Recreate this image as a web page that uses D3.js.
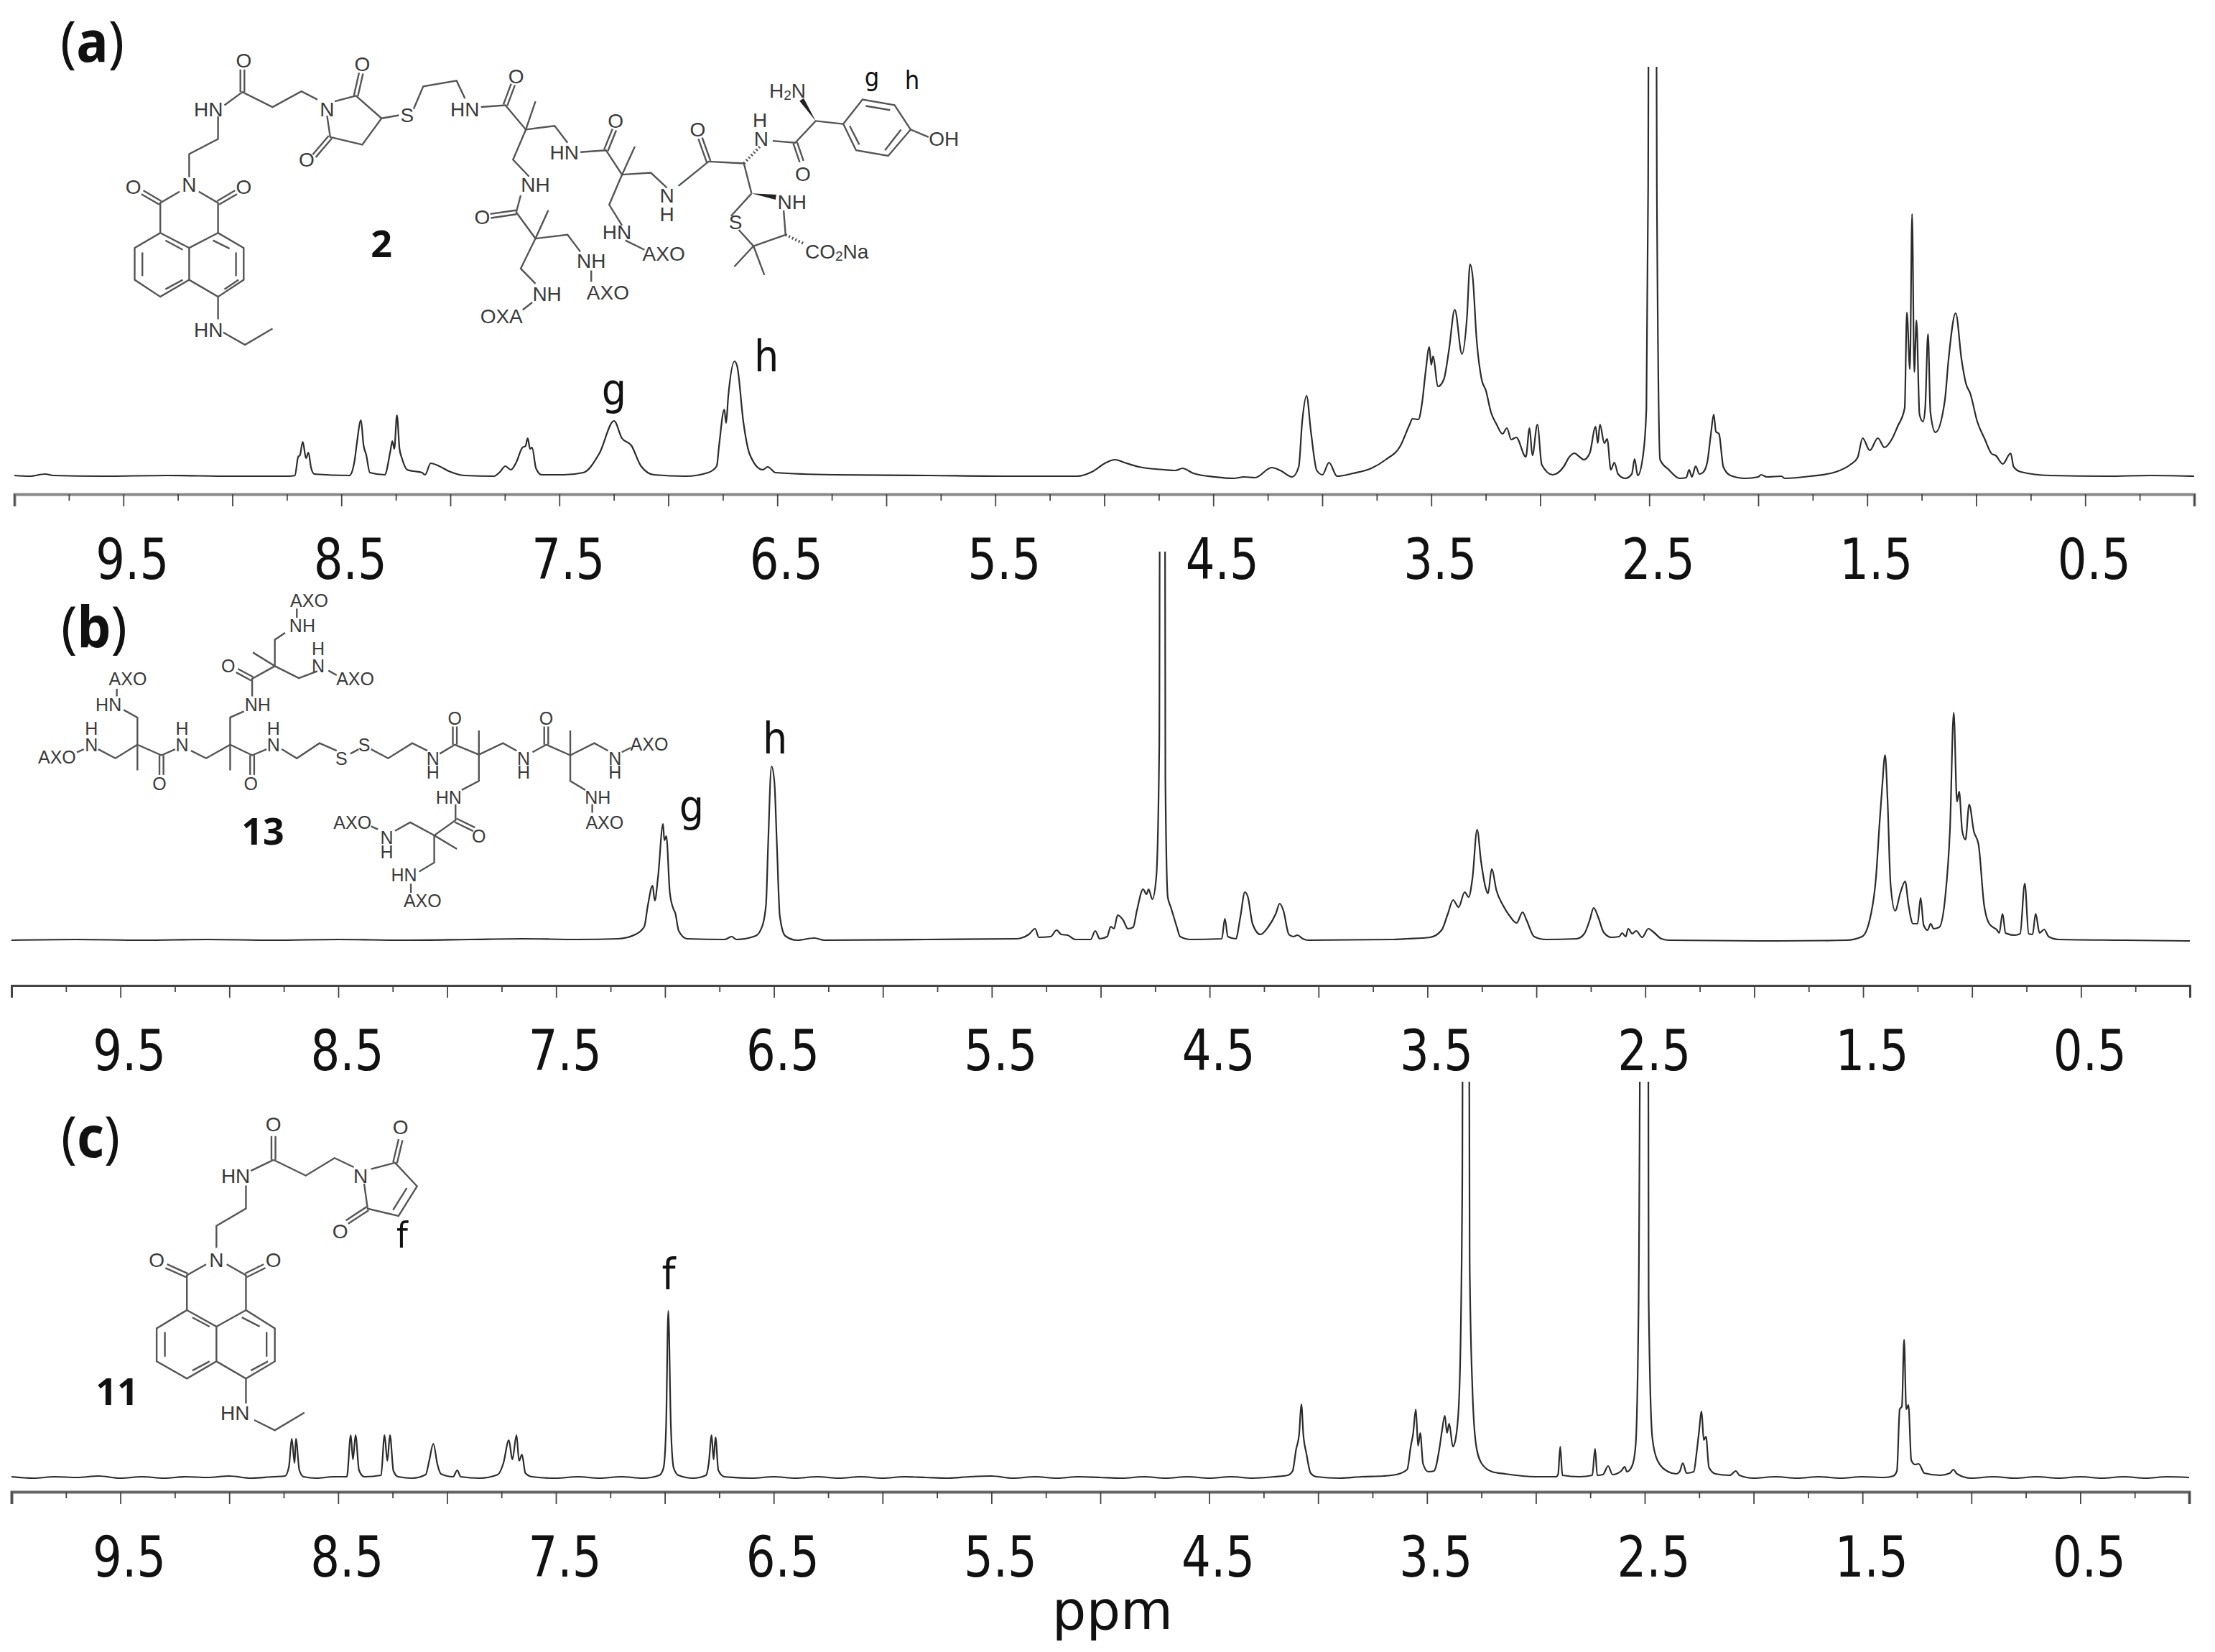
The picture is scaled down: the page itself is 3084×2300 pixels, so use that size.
<!DOCTYPE html>
<html>
<head>
<meta charset="UTF-8">
<title>NMR spectra</title>
<script src="https://cdn.jsdelivr.net/npm/d3@7"></script>
<style>
html, body { margin: 0; background: #fff; }
svg { display: block; }
</style>
</head>
<body>
<script>
// ticks
var majorTicks = [10, 9.5, 9, 8.5, 8, 7.5, 7, 6.5, 6, 5.5, 5, 4.5, 4, 3.5, 3, 2.5, 2, 1.5, 1, 0.5, 0];
var minorTicks = [9.75, 9.25, 8.75, 8.25, 7.75, 7.25, 6.75, 6.25, 5.75, 5.25, 4.75, 4.25, 3.75, 3.25, 2.75, 2.25, 1.75, 1.25, 0.75, 0.25];
var labelledTicks = [9.5, 8.5, 7.5, 6.5, 5.5, 4.5, 3.5, 2.5, 1.5, 0.5];

// spectra: [ppm, height above baseline]
var spectrumA = [[10,1],[9.93,0],[9.859,3],[9.82,1],[9.6,0],[9.3,1],[9.0,0],[8.742,0],[8.713,1],[8.698,27],[8.69,29],[8.677,48],[8.662,25],[8.651,33],[8.639,12],[8.624,3],[8.463,1],[8.439,22],[8.43,43],[8.41,78],[8.398,43],[8.386,30],[8.369,5],[8.301,2],[8.275,35],[8.266,49],[8.257,38],[8.245,85],[8.233,38],[8.222,25],[8.198,9],[8.169,7],[8.13,5],[8.116,2],[8.09,18],[8.051,14],[8.007,7],[7.934,1],[7.8,0],[7.772,6],[7.748,14],[7.722,9],[7.698,19],[7.669,40],[7.655,42],[7.645,53],[7.634,38],[7.625,40],[7.607,11],[7.581,2],[7.478,2],[7.39,5],[7.316,32],[7.249,77],[7.213,53],[7.17,43],[7.125,14],[7.066,2],[6.92,0],[6.817,5],[6.778,14],[6.767,43],[6.743,93],[6.735,74],[6.725,111],[6.696,160],[6.684,153],[6.655,74],[6.626,30],[6.567,9],[6.544,13],[6.508,5],[6.243,2],[5.8,1],[5.456,0],[5.124,0],[5.057,6],[4.991,19],[4.951,23],[4.908,19],[4.841,13],[4.724,9],[4.674,8],[4.641,11],[4.591,4],[4.491,-1],[4.408,-3],[4.358,-1],[4.308,-2],[4.232,12],[4.192,8],[4.138,-1],[4.108,13],[4.092,76],[4.072,112],[4.052,62],[4.025,8],[3.999,2],[3.969,19],[3.932,0],[3.859,4],[3.775,11],[3.709,23],[3.642,42],[3.599,72],[3.586,80],[3.559,79],[3.542,102],[3.526,145],[3.509,180],[3.5,155],[3.492,167],[3.469,125],[3.442,135],[3.419,175],[3.392,232],[3.359,170],[3.336,222],[3.322,295],[3.309,275],[3.293,195],[3.269,135],[3.249,119],[3.226,89],[3.2,72],[3.173,59],[3.153,67],[3.133,51],[3.11,54],[3.066,27],[3.049,67],[3.036,29],[3.013,72],[2.993,16],[2.943,2],[2.893,13],[2.866,27],[2.843,32],[2.82,27],[2.8,23],[2.773,32],[2.746,69],[2.736,46],[2.726,72],[2.706,46],[2.693,52],[2.676,9],[2.66,19],[2.643,3],[2.61,-3],[2.58,3],[2.567,24],[2.553,1],[2.527,32],[2.513,95],[2.505,400],[2.5,1000],[2.47,1000],[2.465,400],[2.45,23],[2.41,9],[2.36,-3],[2.33,-2],[2.317,9],[2.304,-1],[2.287,14],[2.27,3],[2.254,5],[2.234,19],[2.217,59],[2.204,86],[2.194,62],[2.18,59],[2.16,13],[2.127,1],[2.06,-3],[2.0,-1],[1.987,2],[1.96,-1],[1.894,0],[1.878,-3],[1.761,0],[1.644,6],[1.578,16],[1.544,26],[1.521,53],[1.488,36],[1.451,53],[1.421,40],[1.388,51],[1.361,69],[1.328,95],[1.318,228],[1.304,149],[1.294,365],[1.284,145],[1.274,217],[1.26,86],[1.244,76],[1.234,95],[1.221,198],[1.21,89],[1.187,61],[1.144,105],[1.127,162],[1.094,227],[1.067,162],[1.047,129],[1.027,115],[0.995,76],[0.961,52],[0.928,31],[0.911,29],[0.878,17],[0.842,32],[0.828,13],[0.795,6],[0.662,1],[0.4,0],[0.2,1],[0,0]];

var spectrumB = [[10,0],[9.7,1],[9.4,0],[9.1,1],[8.8,0],[8.5,1],[8.2,0],[7.9,1],[7.656,2],[7.4,1],[7.215,2],[7.136,8],[7.095,19],[7.079,48],[7.057,76],[7.047,55],[7.032,88],[7.009,162],[7.003,139],[6.994,145],[6.978,67],[6.962,44],[6.953,38],[6.937,13],[6.899,2],[6.726,1],[6.694,5],[6.672,1],[6.584,6],[6.552,21],[6.536,51],[6.527,130],[6.511,242],[6.498,221],[6.486,130],[6.473,34],[6.448,6],[6.394,0],[6.315,3],[6.268,0],[5.8,1],[5.385,2],[5.365,3],[5.33,8],[5.301,16],[5.284,4],[5.23,5],[5.202,14],[5.181,8],[5.152,7],[5.117,1],[5.046,1],[5.025,13],[5.004,2],[4.97,5],[4.954,19],[4.939,16],[4.922,35],[4.897,28],[4.875,16],[4.851,18],[4.834,41],[4.805,71],[4.79,64],[4.78,71],[4.763,57],[4.745,87],[4.731,271],[4.727,900],[4.706,900],[4.703,225],[4.692,60],[4.678,46],[4.664,32],[4.65,18],[4.635,5],[4.586,1],[4.444,2],[4.43,30],[4.416,5],[4.38,2],[4.359,32],[4.338,67],[4.324,60],[4.303,23],[4.267,8],[4.232,18],[4.196,37],[4.178,51],[4.161,41],[4.136,8],[4.115,5],[4.097,7],[4.072,2],[4.047,0],[3.665,1],[3.594,2],[3.488,4],[3.435,14],[3.406,37],[3.382,56],[3.357,46],[3.329,67],[3.311,60],[3.293,87],[3.272,154],[3.254,110],[3.233,73],[3.222,65],[3.205,99],[3.183,69],[3.152,48],[3.123,34],[3.091,24],[3.063,39],[3.045,28],[3.01,5],[2.957,1],[2.815,2],[2.78,9],[2.755,28],[2.737,45],[2.716,32],[2.691,11],[2.656,4],[2.62,5],[2.606,10],[2.59,5],[2.578,16],[2.56,9],[2.542,13],[2.514,4],[2.486,16],[2.461,11],[2.426,2],[2.39,0],[1.894,-1],[1.576,0],[1.505,5],[1.47,28],[1.441,87],[1.424,165],[1.413,211],[1.399,258],[1.388,197],[1.374,78],[1.353,41],[1.328,67],[1.307,82],[1.292,50],[1.271,23],[1.25,23],[1.236,59],[1.222,21],[1.204,14],[1.19,23],[1.176,16],[1.151,18],[1.123,60],[1.101,156],[1.084,317],[1.069,193],[1.059,207],[1.045,152],[1.03,140],[1.013,189],[0.992,152],[0.97,133],[0.945,50],[0.921,23],[0.885,14],[0.875,10],[0.86,37],[0.846,10],[0.804,7],[0.779,9],[0.758,79],[0.74,9],[0.722,8],[0.708,37],[0.69,10],[0.669,15],[0.648,5],[0.602,1],[0.3,0],[0,-1]];

var spectrumC = [[10,1],[9.9,-1],[9.8,1],[9.7,0],[9.6,2],[9.5,-1],[9.4,1],[9.3,-1],[9.2,1],[9.1,0],[9.0,2],[8.9,-1],[8.8,1],[8.744,2],[8.726,15],[8.713,54],[8.7,20],[8.694,54],[8.678,10],[8.659,1],[8.6,-1],[8.52,1],[8.46,1],[8.442,59],[8.432,25],[8.42,59],[8.404,10],[8.38,1],[8.303,3],[8.287,59],[8.274,23],[8.262,59],[8.246,9],[8.224,1],[8.16,-1],[8.098,4],[8.082,23],[8.063,47],[8.044,18],[8.028,5],[7.972,1],[7.953,10],[7.937,1],[7.85,-1],[7.767,4],[7.741,20],[7.716,52],[7.7,25],[7.681,59],[7.669,23],[7.656,32],[7.64,6],[7.609,1],[7.5,-1],[7.4,1],[7.3,-1],[7.2,1],[7.1,-1],[7.025,3],[7.006,13],[6.994,71],[6.984,232],[6.972,71],[6.959,13],[6.937,3],[6.87,-1],[6.811,3],[6.798,20],[6.785,59],[6.776,25],[6.767,56],[6.754,10],[6.726,1],[6.6,-1],[6.5,1],[6.4,-1],[6.3,1],[6.2,-1],[6.1,1],[6.0,-1],[5.9,1],[5.8,0],[5.7,-1],[5.6,1],[5.5,2],[5.4,-1],[5.3,1],[5.2,-1],[5.1,1],[5.0,0],[4.9,-1],[4.8,1],[4.7,-1],[4.6,1],[4.5,-1],[4.4,1],[4.3,-1],[4.2,1],[4.14,3],[4.117,9],[4.101,39],[4.087,60],[4.077,102],[4.067,57],[4.054,34],[4.034,6],[4.007,1],[3.9,-1],[3.8,1],[3.7,2],[3.641,4],[3.591,11],[3.574,44],[3.564,60],[3.551,95],[3.541,44],[3.531,62],[3.518,19],[3.494,8],[3.468,9],[3.441,44],[3.431,65],[3.418,86],[3.408,62],[3.398,75],[3.381,43],[3.365,60],[3.351,121],[3.338,400],[3.334,900],[3.308,900],[3.304,300],[3.291,121],[3.274,44],[3.248,19],[3.201,8],[3.141,5],[3.0,1],[2.908,1],[2.898,4],[2.888,43],[2.878,3],[2.8,1],[2.741,3],[2.728,40],[2.718,3],[2.692,4],[2.668,16],[2.648,4],[2.608,9],[2.592,15],[2.582,8],[2.558,16],[2.542,44],[2.528,248],[2.515,900],[2.485,900],[2.482,248],[2.465,55],[2.442,24],[2.392,8],[2.355,5],[2.34,8],[2.325,20],[2.308,6],[2.275,8],[2.262,34],[2.252,60],[2.239,92],[2.229,52],[2.219,57],[2.205,14],[2.175,5],[2.109,3],[2.082,9],[2.065,3],[2.0,-1],[1.9,1],[1.8,-1],[1.7,1],[1.6,-1],[1.5,1],[1.4,0],[1.359,2],[1.342,9],[1.329,95],[1.319,99],[1.309,192],[1.299,95],[1.289,101],[1.276,24],[1.259,18],[1.242,19],[1.216,6],[1.143,3],[1.099,6],[1.083,11],[1.066,5],[1.0,-1],[0.9,1],[0.8,-1],[0.7,1],[0.6,-1],[0.5,1],[0.4,-1],[0.3,1],[0.2,-1],[0.1,1],[0,0]];

var viewA = { sx: 1400 / 1568, sy: 820 / 1568, dy: 0, font: 28 };
var viewB = { sx: 1500 / 1568, sy: 660 / 1568, dy: 820, font: 25 };
var viewC = { sx: 1500 / 1568, sy: 800 / 1568, dy: 1500, font: 28 };

var bondsA = [
  [[280,510],[250,540],[250,620],[210,660],[210,745],[250,790],[295,745],[295,660],[250,620]],
  [[310,510],[340,540],[340,620],[380,660],[380,745],[340,790],[295,745]],[[295,660],[340,620]],
  [[340,790],[340,850]],[[348,885],[382,918],[425,875]],
  [[295,472],[295,410],[340,370],[340,310]],
  [[350,280],[378,245],[425,285],[470,243],[495,265]],
  [[522,270],[555,255],[595,315],[565,385],[515,365],[510,308]],
  [[595,315],[622,307]],[[645,290],[660,230],[712,215],[725,262]],
  [[750,285],[788,280],[820,345],[835,270]],[[820,345],[865,335],[885,380]],[[820,345],[800,425],[825,470]],
  [[905,405],[945,400],[970,465],[990,390]],[[970,465],[1015,460],[1040,500]],[[970,465],[950,545],[970,600]],[[975,640],[1005,665]],
  [[1058,495],[1105,430],[1160,435],[1172,515]],[[1205,375],[1240,380],[1272,322],[1315,330]],
  [[1315,330],[1345,265],[1395,280],[1420,345],[1385,415],[1335,400],[1315,330]],[[1420,345],[1448,365]],
  [[1172,515],[1140,575]],[[1222,560],[1225,625],[1175,655],[1152,612]],[[1175,655],[1145,710]],[[1175,655],[1192,732]],
  [[812,520],[805,565],[835,635],[855,560]],[[835,635],[885,625],[905,670]],[[922,720],[922,750]],[[835,635],[812,715],[835,755]],[[830,805],[815,825]]
];
var doublesA = [
  [[250,540],[222,512]],[[340,540],[368,512]],[[378,245],[378,185]],[[555,255],[563,195]],[[515,365],[490,415]],
  [[788,280],[800,225]],[[945,400],[958,345]],[[1105,430],[1092,368]],[[1240,380],[1250,430]],[[805,565],[765,575]]
];
var innerA = [
  [[258,640],[285,665]],[[222,672],[222,735]],[[258,770],[285,745]],[[368,672],[368,735]],[[332,640],[358,662]],[[350,770],[372,745]],
  [[1350,282],[1388,293]],[[1405,345],[1380,400]],[[1340,385],[1325,335]]
];
var wedgesA = [[[1272,322],[1250,265]],[[1172,515],[1210,525]]];
var hashesA = [[[1160,435],[1185,390]],[[1225,625],[1255,650]]];
var atomsA = [
  ["O",380,160],["O",565,170],["O",208,497],["O",380,497],["O",478,425],["O",805,203],["O",960,322],["O",1088,345],["O",1252,463],["O",752,578],
  ["N",295,492],["N",510,290],["HN",325,290],["HN",325,878],["S",635,305],["HN",725,290],["HN",880,405],["NH",835,492],
  ["N",1040,520],["H",1040,570],["HN",962,618],["AXO",1035,675],["N",1187,370],["H",1185,320],["H2N",1228,240],["OH",1472,370],
  ["NH",1235,538],["S",1147,590],["CO2Na",1305,670],["NH",922,695],["AXO",948,778],["NH",853,782],["OXA",782,842]
];

var bondsB = [
  [[432,65],[432,95]],[[415,145],[400,168],[400,255],[368,210]],[[400,255],[435,295],[462,272]],[[478,270],[490,285]],
  [[400,255],[367,297],[367,355]],[[355,405],[335,425],[335,515],[300,560],[278,535]],[[255,530],[235,550],[200,515],[200,425],[180,400]],
  [[170,355],[170,330]],[[200,515],[168,560],[143,530]],[[122,530],[112,540]],[[200,515],[200,600]],[[335,515],[335,600]],
  [[335,515],[367,550],[388,530]],[[410,530],[432,560],[465,510],[490,535]],[[510,545],[522,530]],[[540,530],[565,560],[600,510],[622,535]],
  [[640,545],[662,515],[697,548],[697,468]],[[697,548],[732,510],[752,535]],[[775,540],[795,515],[830,550],[830,468]],
  [[830,550],[865,510],[885,535]],[[905,540],[918,525]],[[830,550],[830,635],[852,665]],[[862,712],[862,740]],
  [[697,548],[697,635],[672,665]],[[663,712],[663,765],[632,815],[665,860]],[[632,815],[597,772],[575,800]],[[550,795],[540,785]],
  [[632,815],[632,905],[610,935]],[[598,975],[598,1005]]
];
var doublesB = [
  [[367,297],[345,270]],[[235,550],[235,615]],[[367,550],[367,615]],[[662,515],[662,455]],[[795,515],[795,455]],[[663,765],[690,795]]
];
var atomsB = [
  ["AXO",450,38],["NH",440,122],["AXO",517,297],["O",332,255],["NH",375,382],
  ["O",232,645],["HN",158,382],["AXO",186,297],["AXO",83,555],["O",365,643],
  ["S",497,560],["S",530,515],["O",662,428],["O",795,428],
  ["AXO",945,513],["NH",870,688],["AXO",880,772],["HN",653,688],["O",697,817],["AXO",513,772],["HN",588,945],["AXO",615,1032]
];
// N and H stacked on two lines of one label: [first, second, x, y first, y second]
var stackedB = [
  ["H","N",463,198,255],["H","N",265,462,515],["H","N",133,462,515],["H","N",398,462,515],
  ["N","H",630,560,607],["N","H",762,560,607],["N","H",895,560,607],["N","H",563,822,870]
];

var bondsC = [
  [[358,295],[358,358],[315,405],[315,465]],[[398,225],[365,255]],
  [[300,510],[272,540],[272,635],[228,685],[228,775],[272,822],[315,775],[315,680],[272,635]],
  [[330,510],[358,540],[358,635],[400,685],[400,775],[358,822],[315,775]],[[315,680],[358,635]],
  [[358,822],[358,890]],[[370,935],[400,963],[443,915]],
  [[398,225],[445,268],[487,220],[515,245]],[[540,250],[575,233],[607,297],[580,378],[535,358],[530,290]]
];
var doublesC = [
  [[398,160],[398,225]],[[272,540],[242,515]],[[358,540],[385,515]],[[575,233],[583,170]],[[535,358],[505,395]]
];
var innerC = [
  [[280,655],[305,680]],[[240,695],[240,762]],[[280,800],[305,775]],[[388,695],[388,762]],[[352,655],[378,680]],[[365,800],[390,775]],[[592,302],[572,362]]
];
var atomsC = [
  ["O",398,128],["HN",343,268],["N",315,497],["O",228,498],["O",398,498],["HN",342,915],["N",525,268],["O",583,135],["O",495,420]
];

var panelLetters = [["a",84,86,89],["b",85,901,92],["c",85,1611,82]];
var compoundIds = [["2",531,358],["13",366,1176],["11",163,1956]];
var peakLabels = [["g",855,563,60],["h",1067,517,60],["g",963,1143,60],["h",1079,1049,60],["f",931,1795,60],["f",560,1737,50],["g",1214,120,36],["h",1270,124,36]];

var svg = d3.select("body").append("svg")
  .attr("width", 3084)
  .attr("height", 2300)
  .style("font-family", "'DejaVu Sans'");

var defs = svg.append("defs");

function drawPanel(id, data, o) {
  var x = d3.scaleLinear().domain([10, 0]).range([o.left, o.right]);
  var y = d3.scaleLinear().domain([0, o.base - o.top]).range([o.base, o.top]);

  defs.append("clipPath").attr("id", id).append("rect")
    .attr("x", 0).attr("y", o.top).attr("width", 3084).attr("height", 2300 - o.top);

  var line = d3.line()
    .x(function(d) { return x(d[0]); })
    .y(function(d) { return y(d[1]); })
    .curve(d3.curveMonotoneX);

  svg.append("path")
    .datum(data)
    .attr("d", line)
    .attr("clip-path", "url(#" + id + ")")
    .attr("fill", "none")
    .attr("stroke", "#2b2b2b")
    .attr("stroke-width", 2.2)
    .attr("stroke-linejoin", "round");

  var major = svg.append("g")
    .attr("transform", "translate(0," + o.axis + ")")
    .call(d3.axisBottom(x)
      .tickValues(majorTicks)
      .tickSize(17)
      .tickFormat(function(d) { return labelledTicks.indexOf(d) >= 0 ? d.toFixed(1) : ""; }));
  major.select(".domain").attr("stroke", o.axisColor).attr("stroke-width", o.axisWidth);
  major.selectAll(".tick line").attr("stroke", "#444").attr("stroke-width", 1.8);
  major.selectAll(".tick text")
    .filter(function(d) { return labelledTicks.indexOf(d) < 0; })
    .remove();
  major.selectAll(".tick text")
    .attr("x", 12)
    .attr("y", o.label - o.axis)
    .attr("dy", 0)
    .attr("fill", "#111")
    .attr("textLength", 102)
    .attr("lengthAdjust", "spacingAndGlyphs")
    .style("font-family", "'DejaVu Sans'")
    .style("font-size", "78px");
  if (o.noEndTick) {
    major.selectAll(".tick").filter(function(d) { return d === 10; }).remove();
  }

  var minor = svg.append("g")
    .attr("transform", "translate(0," + o.axis + ")")
    .call(d3.axisBottom(x).tickValues(minorTicks).tickSize(9).tickFormat(""));
  minor.select(".domain").remove();
  minor.selectAll(".tick text").remove();
  minor.selectAll(".tick line").attr("stroke", "#444").attr("stroke-width", 1.8);
}

drawPanel("clipA", spectrumA, { left: 20, right: 3055, base: 663, top: 93, axis: 688, label: 806, axisColor: "#888", axisWidth: 4 });
drawPanel("clipB", spectrumB, { left: 16, right: 3049, base: 1309, top: 768, axis: 1372, label: 1490, axisColor: "#444", axisWidth: 3, noEndTick: true });
drawPanel("clipC", spectrumC, { left: 16, right: 3048, base: 2057, top: 1506, axis: 2077, label: 2195, axisColor: "#666", axisWidth: 4 });

// chemical structures
function drawStructure(view, bonds, doubles, inner, wedges, hashes, atoms, stacked) {
  var sx = function(v) { return v * view.sx; };
  var sy = function(v) { return v * view.sy + view.dy; };
  var g = svg.append("g").attr("fill", "none").attr("stroke", "#555").attr("stroke-width", 2.4);
  var poly = d3.line().x(function(d) { return sx(d[0]); }).y(function(d) { return sy(d[1]); });

  bonds.concat(inner).forEach(function(b) { g.append("path").attr("d", poly(b)); });

  doubles.forEach(function(b) {
    var x1 = sx(b[0][0]), y1 = sy(b[0][1]), x2 = sx(b[1][0]), y2 = sy(b[1][1]);
    var len = Math.hypot(x2 - x1, y2 - y1);
    var nx = -(y2 - y1) / len * 2.8, ny = (x2 - x1) / len * 2.8;
    [-1, 1].forEach(function(s) {
      g.append("line")
        .attr("x1", x1 + s * nx).attr("y1", y1 + s * ny)
        .attr("x2", x2 + s * nx).attr("y2", y2 + s * ny);
    });
  });

  wedges.forEach(function(b) {
    var x1 = sx(b[0][0]), y1 = sy(b[0][1]), x2 = sx(b[1][0]), y2 = sy(b[1][1]);
    var len = Math.hypot(x2 - x1, y2 - y1);
    var nx = -(y2 - y1) / len * 3.5, ny = (x2 - x1) / len * 3.5;
    g.append("path")
      .attr("d", "M" + x1 + "," + y1 + "L" + (x2 + nx) + "," + (y2 + ny) + "L" + (x2 - nx) + "," + (y2 - ny) + "Z")
      .attr("fill", "#222").attr("stroke", "none");
  });

  hashes.forEach(function(b) {
    g.append("path").attr("d", poly(b)).attr("stroke-dasharray", "2 3").attr("stroke-width", 4);
  });

  var t = svg.append("g")
    .style("font-family", "'Liberation Sans'")
    .style("font-size", view.font + "px")
    .attr("fill", "#3a3a3a")
    .attr("text-anchor", "middle")
    .attr("dominant-baseline", "central");

  atoms.forEach(function(a) {
    var el = t.append("text").attr("x", sx(a[1])).attr("y", sy(a[2]));
    var parts = a[0].split(/(\d)/);
    var shift = 0;
    parts.forEach(function(p) {
      if (p === "") return;
      var isSub = /\d/.test(p);
      var s = el.append("tspan").text(p).attr("dy", (isSub ? 6 : 0) - shift);
      if (isSub) s.style("font-size", (view.font * 0.68) + "px");
      shift = isSub ? 6 : 0;
    });
  });

  (stacked || []).forEach(function(a) {
    var el = t.append("text").attr("x", sx(a[2])).attr("y", sy(a[3]));
    el.append("tspan").text(a[0]);
    el.append("tspan").text(a[1]).attr("x", sx(a[2])).attr("y", sy(a[4]));
  });
}

drawStructure(viewA, bondsA, doublesA, innerA, wedgesA, hashesA, atomsA);
drawStructure(viewB, bondsB, doublesB, [], [], [], atomsB, stackedB);
drawStructure(viewC, bondsC, doublesC, innerC, [], [], atomsC);

// panel letters and labels
panelLetters.forEach(function(d) {
  var t = svg.append("text")
    .attr("x", d[1]).attr("y", d[2])
    .attr("textLength", d[3])
    .attr("lengthAdjust", "spacingAndGlyphs")
    .style("font-family", "'Noto Sans'")
    .style("font-size", "78px")
    .attr("fill", "#111");
  t.append("tspan").text("(");
  t.append("tspan").text(d[0]).style("font-weight", "bold");
  t.append("tspan").text(")");
});

svg.selectAll(".compound").data(compoundIds).enter().append("text")
  .attr("class", "compound")
  .attr("x", function(d) { return d[1]; })
  .attr("y", function(d) { return d[2]; })
  .attr("text-anchor", "middle")
  .style("font-family", "'Noto Sans'")
  .style("font-size", "52px")
  .style("font-weight", "bold")
  .attr("fill", "#111")
  .text(function(d) { return d[0]; });

svg.selectAll(".peak").data(peakLabels).enter().append("text")
  .attr("class", "peak")
  .attr("x", function(d) { return d[1]; })
  .attr("y", function(d) { return d[2]; })
  .attr("text-anchor", "middle")
  .style("font-size", function(d) { return d[3] + "px"; })
  .style("font-stretch", "condensed")
  .attr("fill", "#111")
  .text(function(d) { return d[0]; });

svg.append("text")
  .attr("x", 1549)
  .attr("y", 2268)
  .attr("text-anchor", "middle")
  .style("font-size", "75px")
  .attr("fill", "#111")
  .text("ppm");
</script>
</body>
</html>
